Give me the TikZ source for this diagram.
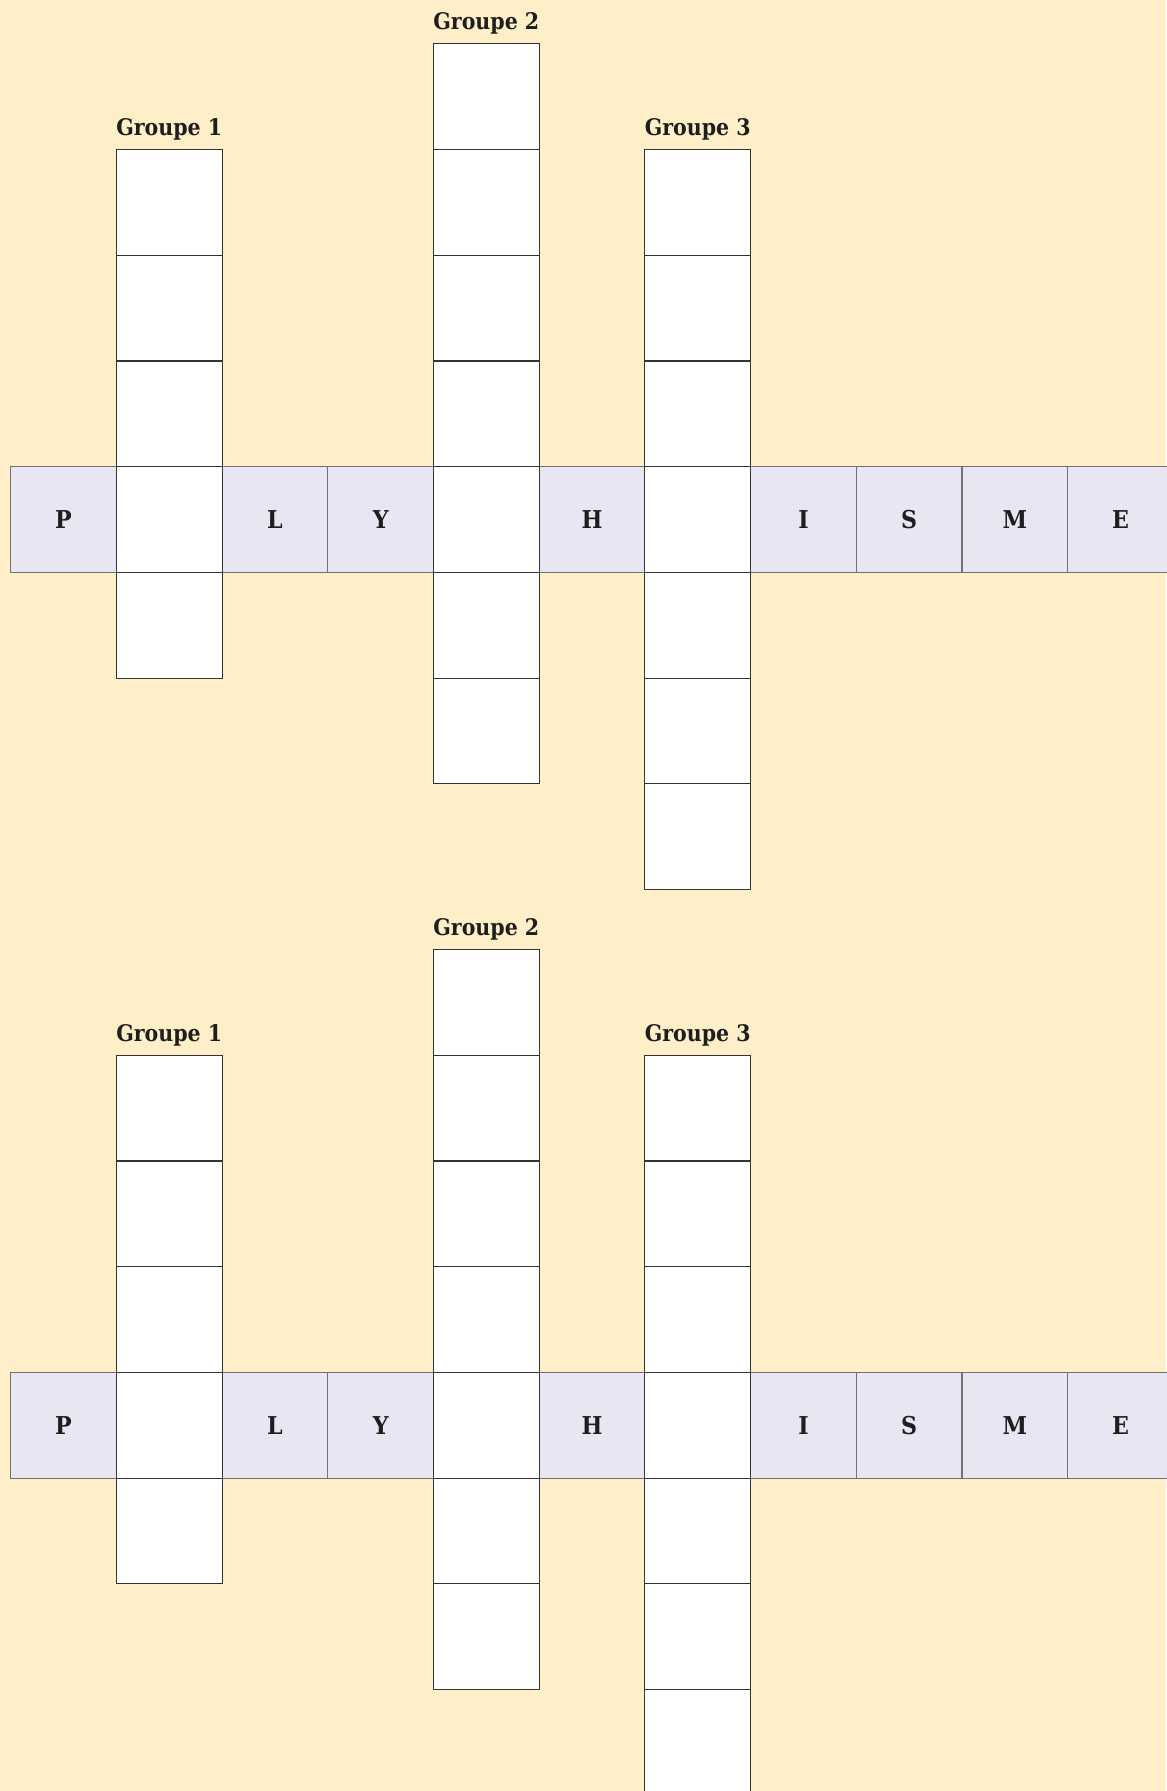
\documentclass[tikz,border=0pt]{standalone}
\usepackage{fontspec}
\setmainfont{DejaVu Serif Condensed}
\usetikzlibrary{positioning}
\definecolor{paper}{HTML}{FEEFC9}
\definecolor{lavender}{HTML}{E9E5F3}
\definecolor{ink}{HTML}{1E1E1E}

\begin{document}
\begin{tikzpicture}[
    x=0.02cm, y=-0.02cm,
    lettercell/.style={
      draw=black!55, fill=lavender, line width=0.6pt,
      minimum width=2.114cm, minimum height=2.114cm, inner sep=0pt,
      font=\fontsize{14}{14}\selectfont\bfseries, text=ink,
    },
    groupcell/.style={
      draw=black!80, fill=white, line width=0.6pt,
      minimum width=2.114cm, minimum height=2.114cm, inner sep=0pt,
    },
    grouplabel/.style={
      font=\fontsize{13}{14}\selectfont\bfseries, text=ink,
      anchor=base, inner sep=0pt,
    },
]
\fill[paper] (0,0) rectangle (1166,1791);
\useasboundingbox (0,0) rectangle (1166,1791);

% two copies of the same grid
\foreach \cp/\yo in {top/0, bot/905.7} {
  % the word row
  \foreach \ltr/\i in {P/0, L/2, Y/3, H/5, I/7, S/8, M/9, E/10}
    \node[lettercell] (\cp-w\i) at (63.55+\i*105.7, 519.55+\yo) {\ltr};
  % group columns: number/column/first row/last row
  \foreach \g/\c/\from/\to in {1/1/-3/1, 2/4/-4/2, 3/6/-3/3} {
    \foreach \r in {\from,...,\to}
      \node[groupcell] (\cp-g\g r\r) at (63.55+\c*105.7, 519.55+\r*105.7+\yo) {};
    \node[grouplabel] (\cp-lab\g) at (63.55+\c*105.7, 466.7+\from*105.7-14+\yo) {Groupe \g};
  }
}

\end{tikzpicture}
\end{document}
